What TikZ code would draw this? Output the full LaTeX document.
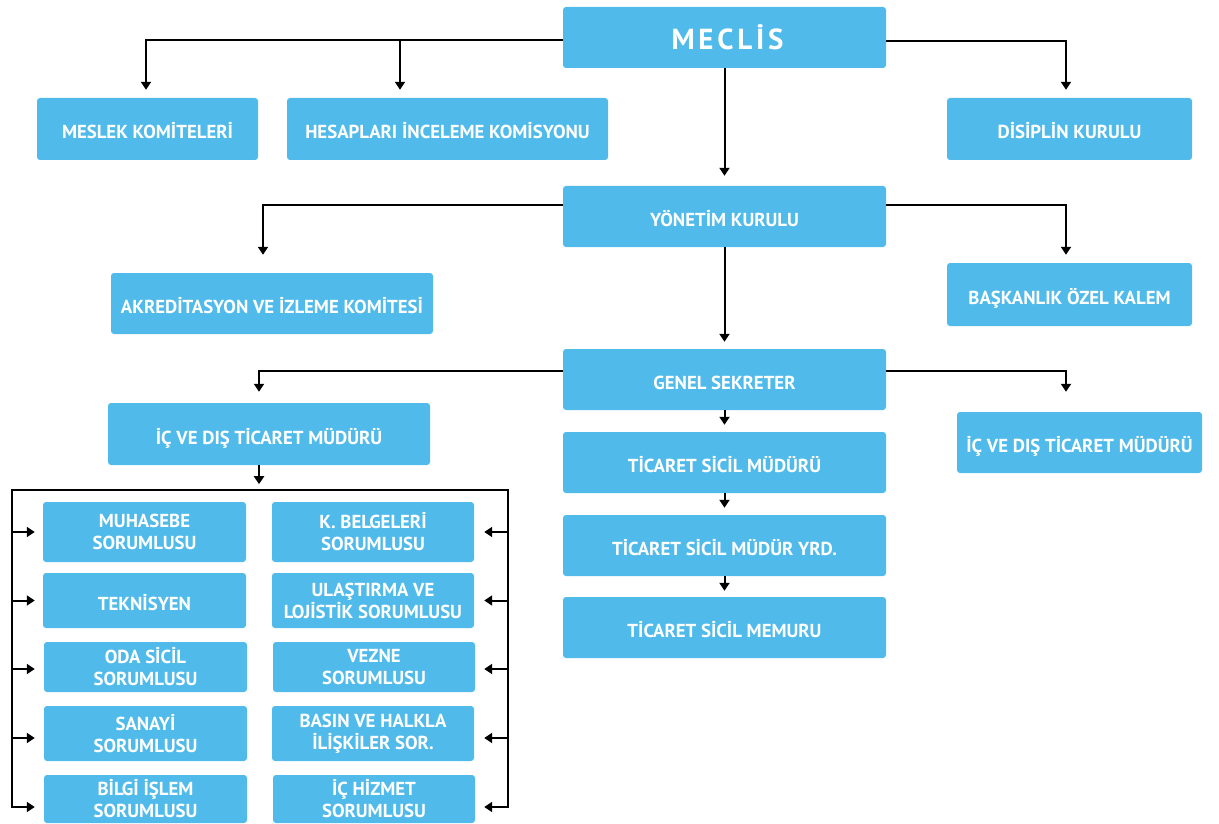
\documentclass[tikz,border=0pt]{standalone}
\usepackage{fontspec}
\setmainfont{PT Sans}
\usetikzlibrary{arrows.meta}
\definecolor{boxblue}{RGB}{80,187,234}
\newcommand\obox[7][oneline]{\node[box, #1, minimum width={#5-#3}, minimum height={#6-#4}] (#2) at ({(#3+#5)/2},{(#4+#6)/2}) {#7};}
\begin{document}
\begin{tikzpicture}[x=1pt,y=-1pt,
  box/.style={fill=boxblue, rounded corners=3pt, inner sep=0pt, text=white,
    font=\fontsize{18.8}{22}\selectfont\bfseries, align=center},
  oneline/.style={text height=20pt, text depth=0pt},
  twoline/.style={},
  arr/.style={line width=2pt, -{Triangle[width=10pt,length=8pt]}},
  ln/.style={line width=2pt}]
\fill[white] (0,0) rectangle (1219,824);
\useasboundingbox (0,0) rectangle (1219,824);

% boxes
\obox[twoline]{meclis}{563}{7}{886}{68}{\hspace*{6pt}\fontsize{29}{29}\selectfont\addfontfeatures{LetterSpace=13}MECLİS}
\obox{meslek}{37}{98}{258}{160}{MESLEK KOMİTELERİ}
\obox{hesap}{287}{98}{608}{160}{HESAPLARI İNCELEME KOMİSYONU}
\obox{disiplin}{947}{98}{1192}{160}{DİSİPLİN KURULU}
\obox{yonetim}{563}{186}{886}{247}{YÖNETİM KURULU}
\obox{akred}{111}{273}{433}{334}{AKREDİTASYON VE İZLEME KOMİTESİ}
\obox{baskan}{947}{263}{1192}{326}{BAŞKANLIK ÖZEL KALEM}
\obox{genel}{563}{349}{886}{410}{GENEL SEKRETER}
\obox{icL}{108}{403}{430}{465}{İÇ VE DIŞ TİCARET MÜDÜRÜ}
\obox{icR}{957}{412}{1202}{473}{İÇ VE DIŞ TİCARET MÜDÜRÜ}
\obox{tsm}{563}{432}{886}{493}{TİCARET SİCİL MÜDÜRÜ}
\obox{tsy}{563}{515}{886}{576}{TİCARET SİCİL MÜDÜR YRD.}
\obox{tsmem}{563}{597}{886}{658}{TİCARET SİCİL MEMURU}

\obox[twoline]{muh}{43}{502}{246}{562}{MUHASEBE\\SORUMLUSU}
\obox{tek}{43}{573}{246}{628}{TEKNİSYEN}
\obox[twoline]{oda}{44}{642}{247}{692}{ODA SİCİL\\SORUMLUSU}
\obox[twoline]{san}{44}{706}{247}{761}{SANAYİ\\SORUMLUSU}
\obox[twoline]{bil}{44}{775}{247}{823}{BİLGİ İŞLEM\\SORUMLUSU}
\obox[twoline]{kbel}{272}{502}{474}{562}{K. BELGELERİ\\SORUMLUSU}
\obox[twoline]{ulas}{272}{573}{474}{628}{ULAŞTIRMA VE\\LOJİSTİK SORUMLUSU}
\obox[twoline]{vez}{273}{642}{475}{692}{VEZNE\\SORUMLUSU}
\obox[twoline]{bas}{272}{706}{474}{761}{BASIN VE HALKLA\\İLİŞKİLER SOR.}
\obox[twoline]{ich}{273}{775}{475}{823}{İÇ HİZMET\\SORUMLUSU}

% MECLIS connectors
\coordinate (mL) at ([yshift=-2.5pt]meclis.west);
\coordinate (mR) at ([yshift=-3.5pt]meclis.east);
\coordinate (meslekT) at ([xshift=-1.5pt,yshift=8pt]meslek.north);
\coordinate (hesapT) at ([xshift=-47.5pt,yshift=8pt]hesap.north);
\coordinate (disT) at ([xshift=-3.5pt,yshift=8pt]disiplin.north);
\draw[arr] (mL) -| (meslekT);
\draw[arr] (hesapT |- mL) -- (hesapT);
\draw[arr] (mR) -| (disT);
\draw[arr] (meclis.south) -- ([yshift=10pt]yonetim.north);

% YONETIM connectors
\coordinate (yL) at ([yshift=11.5pt]yonetim.west);
\coordinate (yR) at ([yshift=11.5pt]yonetim.east);
\draw[arr] (yL) -| ([xshift=-9pt,yshift=18pt]akred.north);
\draw[arr] (yR) -| ([xshift=-3.5pt,yshift=8pt]baskan.north);
\draw[arr] (yonetim.south) -- ([yshift=7pt]genel.north);

% GENEL connectors
\coordinate (gL) at ([yshift=8.5pt]genel.west);
\coordinate (gR) at ([yshift=8.5pt]genel.east);
\draw[arr] (gL) -| ([xshift=-10pt,yshift=11pt]icL.north);
\draw[arr] (gR) -| ([xshift=-13.5pt,yshift=20pt]icR.north);
\draw[arr] (genel.south) -- ([yshift=7pt]tsm.north);
\draw[arr] (tsm.south) -- ([yshift=7pt]tsy.north);
\draw[arr] (tsy.south) -- ([yshift=6pt]tsmem.north);

% bracket
\coordinate (bTL) at (12,490);
\coordinate (bTR) at (508,490);
\coordinate (bBL) at (12,807);
\coordinate (bBR) at (508,807);
\draw[arr] ([xshift=-10pt]icL.south) -- ([xshift=-10pt,yshift=-19pt]icL.south);
\draw[ln, line cap=rect] (bBL) -- (bTL) -- (bTR) -- (bBR);

\coordinate (muhT) at ([xshift=-8pt]muh.west);
\coordinate (tekT) at ([xshift=-8pt]tek.west);
\coordinate (odaT) at ([xshift=-9pt,yshift=-2pt]oda.west);
\coordinate (sanT) at ([xshift=-9pt,yshift=-4.5pt]san.west);
\coordinate (bilT) at ([xshift=-9pt,yshift=-8pt]bil.west);
\coordinate (kbelT) at ([xshift=10pt]kbel.east);
\coordinate (ulasT) at ([xshift=10pt]ulas.east);
\coordinate (vezT) at ([xshift=9pt,yshift=-2pt]vez.east);
\coordinate (basT) at ([xshift=10pt,yshift=-4.5pt]bas.east);
\coordinate (ichT) at ([xshift=9pt,yshift=-8pt]ich.east);

\draw[arr] (bTL |- muhT) -- (muhT);
\draw[arr] (bTL |- tekT) -- (tekT);
\draw[arr] (bTL |- odaT) -- (odaT);
\draw[arr] (bTL |- sanT) -- (sanT);
\draw[arr] (bBL) -- (bilT);

\draw[arr] (bTR |- kbelT) -- (kbelT);
\draw[arr] (bTR |- ulasT) -- (ulasT);
\draw[arr] (bTR |- vezT) -- (vezT);
\draw[arr] (bTR |- basT) -- (basT);
\draw[arr] (bBR) -- (ichT);
\end{tikzpicture}
\end{document}
